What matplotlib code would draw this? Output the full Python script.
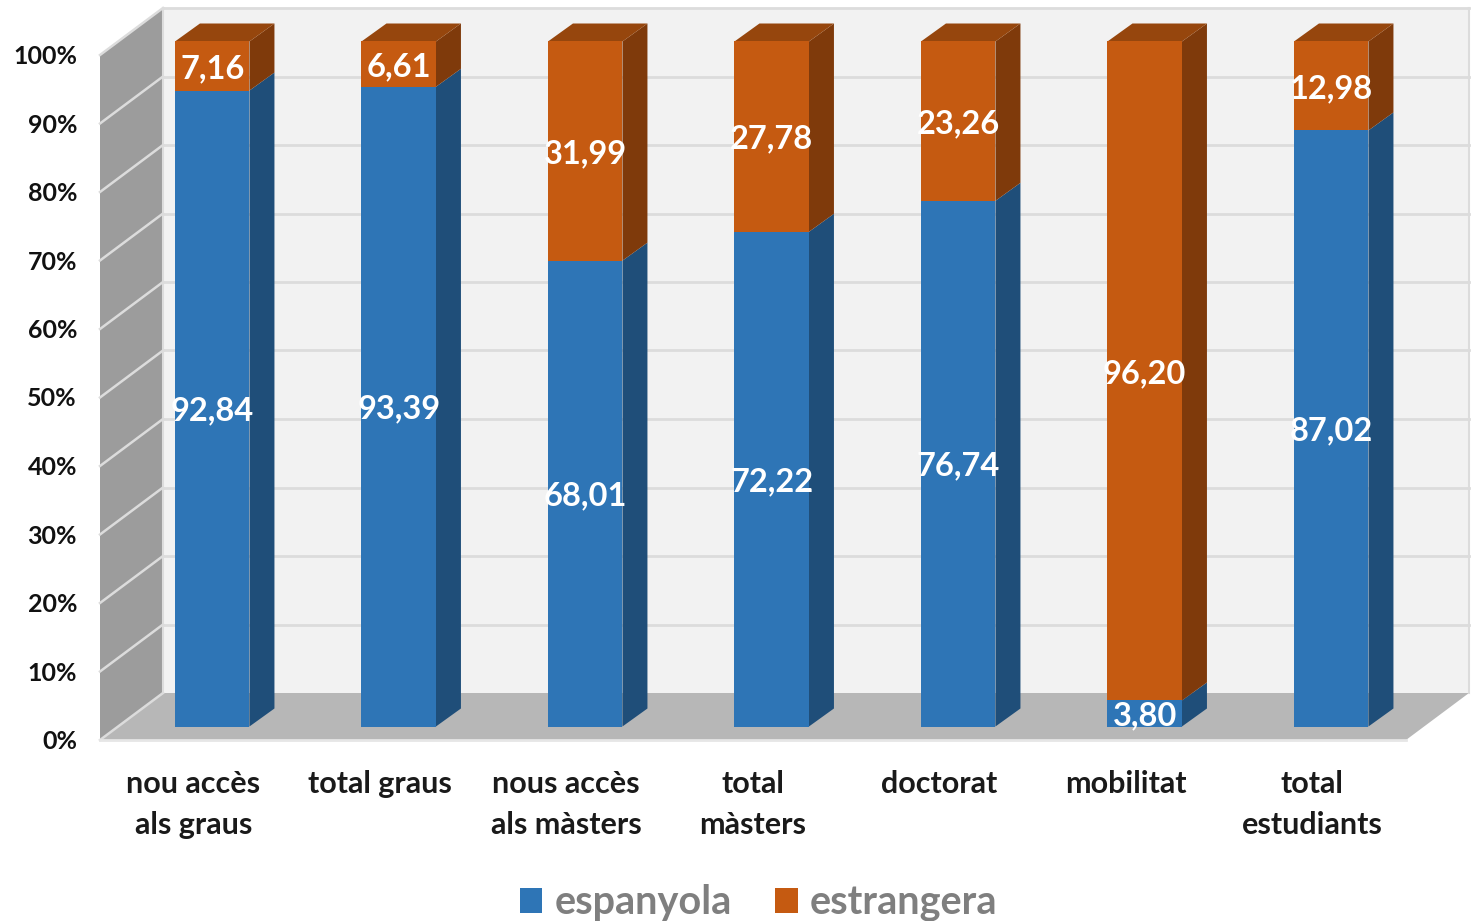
import matplotlib
matplotlib.use('Agg')
import matplotlib.pyplot as plt
from matplotlib.patches import Polygon

categories = ['nou accès\nals graus', 'total graus', 'nous accès\nals màsters', 'total\nmàsters',
              'doctorat', 'mobilitat', 'total\nestudiants']
espanyola = [92.84, 93.39, 68.01, 72.22, 76.74, 3.80, 87.02]
estrangera = [7.16, 6.61, 31.99, 27.78, 23.26, 96.20, 12.98]
y_ticks = [0, 10, 20, 30, 40, 50, 60, 70, 80, 90, 100]

W, H = 1476, 921
BLUE, BLUE_SIDE = '#2e75b6', '#1f4e79'
ORANGE, ORANGE_SIDE, ORANGE_TOP = '#c55a11', '#7f3a0b', '#96460d'

# escala: 186.5 px por categoria, 6.85 px por 1%
PX_X = 186.5
PX_Y = 6.85
X0, Y0 = 212.2, 726.5


def dx(px):
    return px / PX_X


def dy(px):
    return px / PX_Y


def to_x(px):
    return (px - X0) / PX_X


def to_y(px):
    return (Y0 - px) / PX_Y


fig = plt.figure(figsize=(W / 100, H / 100), dpi=100)
ax = fig.add_axes([0, 0, 1, 1])
ax.set_xlim(to_x(0), to_x(W))
ax.set_ylim(to_y(H), to_y(0))
ax.axis('off')
plt.rcParams['font.family'] = ['Lato', 'DejaVu Sans']

# parets i terra
x_front, x_back, x_right = to_x(100), to_x(163), to_x(1469)
x_floor_right = to_x(1406)
y_front, y_back = to_y(740), to_y(693)
h100 = dy(685)
ax.add_patch(Polygon([(x_back, y_back), (x_right, y_back), (x_right, y_back + h100), (x_back, y_back + h100)],
                     fc='#f2f2f2', ec='none', zorder=1))
ax.add_patch(Polygon([(x_front, y_front), (x_back, y_back), (x_back, y_back + h100), (x_front, y_front + h100)],
                     fc='#9c9c9c', ec='none', zorder=1))
ax.add_patch(Polygon([(x_front, y_front), (x_floor_right, y_front), (x_right, y_back), (x_back, y_back)],
                     fc='#b7b7b7', ec='none', zorder=1))

for t in y_ticks:
    off = dy(685) * t / 100
    if t > 0:
        ax.plot([x_back, x_right], [y_back + off, y_back + off], color='#dcdcdc', lw=2, zorder=2)
    ax.plot([x_front, x_back], [y_front + off, y_back + off], color='#dcdcdc', lw=1.8, zorder=2)
    ax.text(to_x(77), y_front + off - dy(1.5), f'{t}%', ha='right', va='center',
            fontsize=18, fontweight='bold', color='#111111')
ax.plot([x_back, x_back], [y_back, y_back + h100], color='#dcdcdc', lw=1.5, zorder=2)
ax.plot([x_right, x_right], [y_back, y_back + h100], color='#dcdcdc', lw=1.5, zorder=2)
ax.plot([x_front, x_floor_right], [y_front, y_front], color='#e6e6e6', lw=2, zorder=2)

# barres apilades
xs = list(range(len(categories)))
bar_w = 74.5 / PX_X
ddx, ddy = dx(25), dy(18)
b1 = ax.bar(xs, espanyola, width=bar_w, color=BLUE, zorder=4, label='espanyola')
b2 = ax.bar(xs, estrangera, width=bar_w, bottom=espanyola, color=ORANGE, zorder=4, label='estrangera')

for i in xs:
    r = i + bar_w / 2
    l = i - bar_w / 2
    v = espanyola[i]
    ax.add_patch(Polygon([(r, 0), (r + ddx, ddy), (r + ddx, v + ddy), (r, v)], fc=BLUE_SIDE, ec='none', zorder=3))
    ax.add_patch(Polygon([(r, v), (r + ddx, v + ddy), (r + ddx, 100 + ddy), (r, 100)], fc=ORANGE_SIDE, ec='none', zorder=3))
    ax.add_patch(Polygon([(l, 100), (r, 100), (r + ddx, 100 + ddy), (l + ddx, 100 + ddy)], fc=ORANGE_TOP, ec='none', zorder=3))
    ax.text(i, v / 2 - dy(2.5), f'{v:.2f}'.replace('.', ','), ha='center', va='center',
            fontsize=23.5, fontweight='bold', color='white', zorder=5)
    e = estrangera[i]
    ax.text(i, v + e / 2 - dy(2.5), f'{e:.2f}'.replace('.', ','), ha='center', va='center',
            fontsize=23.5, fontweight='bold', color='white', zorder=5)
    ax.text(i - dx(19), to_y(770), categories[i], ha='center', va='top', fontsize=22,
            fontweight='bold', color='#1a1a1a', linespacing=1.55)

ax.legend(handles=[b1, b2], ncol=2, frameon=False, loc='center',
          bbox_to_anchor=(758.5 / W, 1 - 903 / H), labelcolor='#7f7f7f',
          prop={'size': 28.5, 'weight': 'bold'}, handlelength=0.58, handleheight=0.58,
          handletextpad=0.3, columnspacing=1.1)

fig.savefig('out.png', dpi=100)
